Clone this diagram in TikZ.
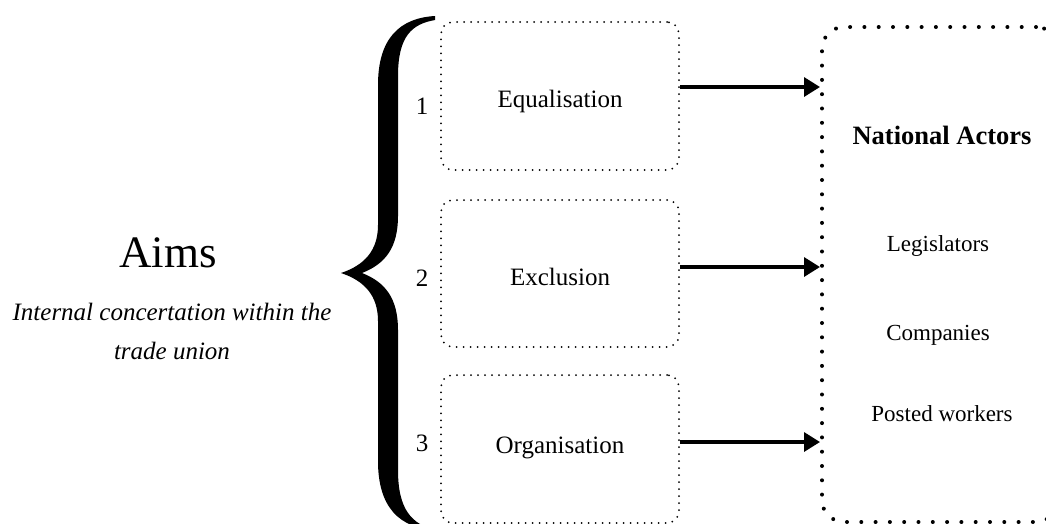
\documentclass[tikz,border=0pt]{standalone}
\usepackage{fontspec}
\setmainfont{Liberation Serif}
\usetikzlibrary{arrows.meta}
\begin{document}
\begin{tikzpicture}[x=1pt,y=-1pt,
  aimbox/.style={draw, line width=2pt, dash pattern=on 0pt off 7pt, line cap=round,
    rounded corners=12pt, minimum width=238pt, inner sep=0pt, text depth=0pt,
    font=\fontsize{25}{30}\selectfont},
  actorbox/.style={draw, line width=4pt, dash pattern=on 0pt off 14.3pt, line cap=round,
    rounded corners=22pt, minimum width=236pt, minimum height=495pt, inner sep=0pt},
  numlabel/.style={inner sep=0pt, font=\fontsize{25}{30}\selectfont},
  actorlabel/.style={inner sep=0pt, anchor=base, font=\fontsize{23}{28}\selectfont},
  arr/.style={line width=3.3pt, -{Triangle[length=16pt,width=19pt]}},
]
\useasboundingbox (0,0) rectangle (1046,523);
\clip (0,0) rectangle (1046,523);

% left title
\node[inner sep=0pt, anchor=base, font=\fontsize{45}{50}\selectfont] (aims) at (168,267) {Aims};
\node[inner sep=0pt, anchor=north, align=center, font=\fontsize{25}{39}\selectfont\itshape] (sub) at (172,303)
  {Internal concertation within the\\ trade union};

% brace
\fill (435,16) .. controls (400,18) and (378,38) .. (378,85) -- (378,225)
  .. controls (378,250) and (365,265) .. (341,273)
  .. controls (365,281) and (378,296) .. (378,321) -- (378,461)
  .. controls (378,508) and (400,528) .. (435,530)
  .. controls (412,524) and (398,510) .. (398,470) -- (398,330)
  .. controls (398,298) and (385,282) .. (362,273)
  .. controls (385,264) and (398,248) .. (398,216) -- (398,76)
  .. controls (398,36) and (412,24) .. (435,20) -- cycle;

% aim boxes
\node[aimbox, minimum height=148pt, text height=22pt] (b1) at (560,96) {Equalisation};
\node[aimbox, minimum height=147pt, text height=23pt] (b2) at (560,273.5) {Exclusion};
\node[aimbox, minimum height=148pt, text height=8pt] (b3) at (560,449) {Organisation};

\node[numlabel] (n1) at (422,106) {1};
\node[numlabel] (n2) at (422,278) {2};
\node[numlabel] (n3) at (422,443) {3};

% actors box
\node[actorbox] (actors) at (940,274.5) {};
\node[inner sep=0pt, anchor=base, font=\fontsize{26.5}{30}\selectfont\bfseries] (nat) at (942,144) {National Actors};
\node[actorlabel] (leg) at (938,251) {Legislators};
\node[actorlabel] (comp) at (938,340) {Companies};
\node[actorlabel] (post) at (942,421) {Posted workers};

% arrows
\draw[arr] ([yshift=9pt]b1.east) -- ([yshift=9pt]b1.east -| actors.west);
\draw[arr] ([yshift=6.5pt]b2.east) -- ([yshift=6.5pt]b2.east -| actors.west);
\draw[arr] ([yshift=7pt]b3.east) -- ([yshift=7pt]b3.east -| actors.west);
\end{tikzpicture}
\end{document}
